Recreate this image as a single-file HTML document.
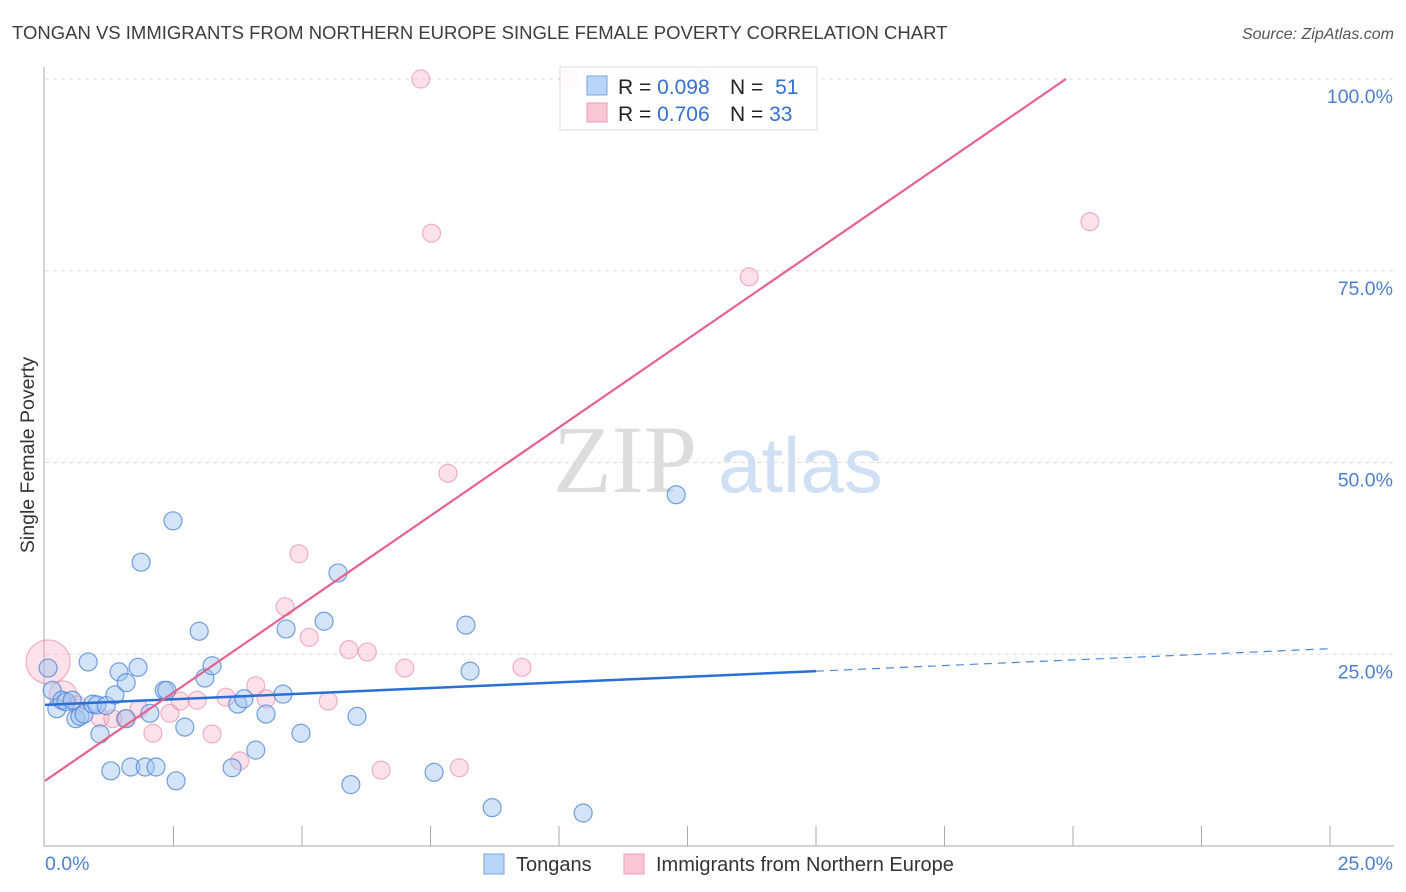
<!DOCTYPE html>
<html><head><meta charset="utf-8"><style>
body{margin:0;background:#fff;font-family:"Liberation Sans",sans-serif;}
#wrap{position:relative;width:1406px;height:892px;overflow:hidden;}
</style></head><body>
<div id="wrap">
<svg id="chart" width="1406" height="892" xmlns="http://www.w3.org/2000/svg">
<text x="12" y="39" font-size="18.5" fill="#3c3c3c">TONGAN VS IMMIGRANTS FROM NORTHERN EUROPE SINGLE FEMALE POVERTY CORRELATION CHART</text>
<text x="1394" y="39" font-size="16" fill="#555" font-style="italic" text-anchor="end">Source: ZipAtlas.com</text>
<g>
<text x="553" y="492" font-size="96" font-family="Liberation Serif,serif" fill="#dcdcdc">ZIP</text>
<text x="718" y="492" font-size="78" fill="#cfe0f4">atlas</text>
</g>
<g id="grid"></g>
<g id="axes"></g>
<g id="pts"></g>
<g id="lines"></g>
<text transform="translate(34,455) rotate(-90)" font-size="19.5" fill="#333" text-anchor="middle">Single Female Poverty</text>
<g>
<rect x="560" y="67" width="257" height="63" fill="rgba(255,255,255,0.85)" stroke="#ddd"/>
<rect x="587" y="76" width="20" height="19" fill="#b8d4f6" stroke="#7aa6e0"/>
<rect x="587" y="103" width="20" height="19" fill="#f9c6d6" stroke="#ee9ab4"/>
<text x="618" y="94" font-size="21" fill="#222">R = <tspan fill="#3470d0">0.098</tspan></text>
<text x="730" y="94" font-size="21" fill="#222">N = <tspan fill="#3470d0" dx="6">51</tspan></text>
<text x="618" y="121" font-size="21" fill="#222">R = <tspan fill="#3470d0">0.706</tspan></text>
<text x="730" y="121" font-size="21" fill="#222">N = <tspan fill="#3470d0">33</tspan></text>
</g>
<g>
<rect x="484" y="854" width="20" height="20" fill="#b8d4f6" stroke="#7aa6e0"/>
<text x="516" y="871" font-size="20" fill="#333">Tongans</text>
<rect x="624" y="854" width="20" height="20" fill="#f9c6d6" stroke="#ee9ab4"/>
<text x="656" y="871" font-size="20" fill="#333">Immigrants from Northern Europe</text>
</g>
</svg>
</div>
<script>
const yTicks=[25,50,75,100];
const yTickLabels=["25.0%","50.0%","75.0%","100.0%"];
const xTickCount=10;
const blueX=[0.06,0.14,0.23,0.33,0.41,0.53,0.60,0.68,0.76,0.84,0.93,1.01,1.07,1.19,1.28,1.36,1.44,1.58,1.58,1.67,1.81,1.87,1.95,2.04,2.16,2.32,2.37,2.49,2.55,2.72,3.00,3.11,3.25,3.64,3.75,3.87,4.10,4.30,4.63,4.69,4.98,5.43,5.70,5.95,6.07,7.57,8.19,8.27,8.70,10.47,12.28];
const blueY=[23.2,20.3,17.9,19.0,18.8,19.0,16.6,16.9,17.2,24.0,18.5,18.4,14.6,18.3,9.8,19.7,22.7,21.3,16.6,10.3,23.3,37.0,10.3,17.3,10.3,20.3,20.3,42.4,8.5,15.5,28.0,21.9,23.5,10.2,18.5,19.2,12.5,17.2,19.8,28.3,14.7,29.3,35.6,8.0,16.9,9.6,28.8,22.8,5.0,4.3,45.8];
const pinkX=[0.06,0.35,0.62,1.07,1.32,1.56,1.83,2.10,2.43,2.63,2.96,3.25,3.52,3.79,4.10,4.30,4.67,4.94,5.14,5.51,5.91,6.27,6.54,7.00,7.31,7.52,7.84,8.06,9.28,10.19,12.76,13.70,20.33];
const pinkY=[24.0,19.7,18.4,16.7,16.6,16.6,17.9,14.7,17.3,18.9,19.0,14.6,19.4,11.1,20.9,19.2,31.2,38.1,27.2,18.9,25.6,25.3,9.9,23.2,100,79.9,48.6,10.2,23.3,100,100,74.2,81.4];
const pinkSize=[22,14,9,9,9,9,9,9,9,9,9,9,9,9,9,9,9,9,9,9,9,9,9,9,9,9,9,9,9,9,9,9,9];
const blueFit=[18.4,0.293];
const pinkFit=[8.5,4.607];
const NS='http://www.w3.org/2000/svg';
const X0=45,X1=1330,Y0=846,Y100=79;
const sx=v=>X0+(X1-X0)*v/25;
const sy=v=>Y0-(Y0-Y100)*v/100;
function mk(tag,attrs,parent){const e=document.createElementNS(NS,tag);for(const k in attrs)e.setAttribute(k,attrs[k]);parent.appendChild(e);return e;}
const grid=document.getElementById('grid'),axes=document.getElementById('axes'),pts=document.getElementById('pts'),lines=document.getElementById('lines');
yTicks.forEach((t,i)=>{
  const l=mk('line',{x1:X0,x2:1394,y1:sy(t),y2:sy(t),stroke:'#dcdcdc','stroke-dasharray':'4,4'},grid);
  
  
  const tx=mk('text',{x:1393,y:sy(t)+24,'font-size':19.5,fill:'#4a7fd4','text-anchor':'end'},axes);
  tx.textContent=yTickLabels[i];
  
  
});
const ax=mk('path',{d:`M${X0-1},67 V${Y0} H1394`,stroke:'#aaa',fill:'none'},axes);


for(let i=1;i<=xTickCount;i++){
  const x=sx(i*25/xTickCount);
  const t=mk('line',{x1:x,x2:x,y1:Y0-20,y2:Y0,stroke:'#aaa'},axes);
  
  
}
const xl0=mk('text',{x:45,y:870,'font-size':19.5,fill:'#4a7fd4'},axes);xl0.textContent='0.0%';


const xl1=mk('text',{x:1393,y:870,'font-size':19.5,fill:'#4a7fd4','text-anchor':'end'},axes);xl1.textContent='25.0%';


pinkX.forEach((v,i)=>{
  const c=mk('circle',{cx:sx(v),cy:sy(pinkY[i]),r:pinkSize[i],fill:'rgba(246,170,196,0.35)',stroke:'rgba(232,130,162,0.6)','stroke-width':1.2},pts);
  
  
});
blueX.forEach((v,i)=>{
  const c=mk('circle',{cx:sx(v),cy:sy(blueY[i]),r:9,fill:'rgba(160,196,240,0.45)',stroke:'rgba(70,130,215,0.75)','stroke-width':1.2},pts);
  
  
});
const bl=mk('line',{x1:sx(0),y1:sy(blueFit[0]),x2:sx(15),y2:sy(blueFit[0]+blueFit[1]*15),stroke:'#2a6fd6','stroke-width':2.5},lines);


const bd=mk('line',{x1:sx(15),y1:sy(blueFit[0]+blueFit[1]*15),x2:sx(25),y2:sy(blueFit[0]+blueFit[1]*25),stroke:'#4a86dc','stroke-width':1.2,'stroke-dasharray':'8,6'},lines);


const pEnd=Math.min(25,(100-pinkFit[0])/pinkFit[1]);
const pl=mk('line',{x1:sx(0),y1:sy(pinkFit[0]),x2:sx(pEnd),y2:sy(pinkFit[0]+pinkFit[1]*pEnd),stroke:'#e8608e','stroke-width':2.2},lines);


</script>
</body></html>
